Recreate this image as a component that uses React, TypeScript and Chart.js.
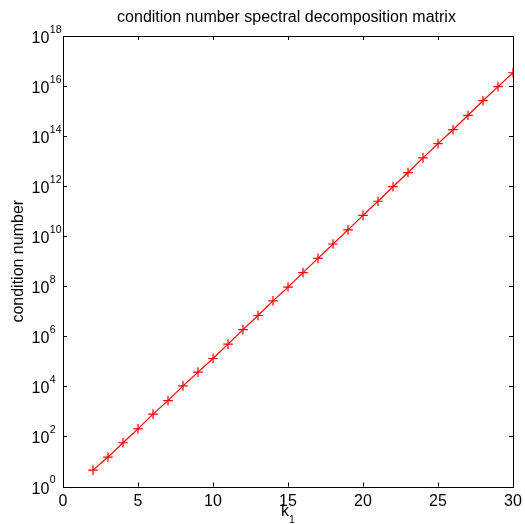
import React, { useEffect, useRef } from "react";
import { Chart, registerables } from "chart.js";

Chart.register(...registerables);

const kValues = [2, 3, 4, 5, 6, 7, 8, 9, 10, 11, 12, 13, 14, 15, 16, 17, 18, 19, 20, 21, 22, 23, 24, 25, 26, 27, 28, 29, 30];
const conditionNumbers = [
  4.5, 15, 56, 200, 780, 2.7e3, 1.05e4, 3.7e4, 1.3e5, 4.9e5,
  1.86e6, 6.8e6, 2.6e7, 9.3e7, 3.5e8, 1.3e9, 4.9e9, 1.8e10, 6.8e10, 2.5e11,
  9.5e11, 3.5e12, 1.35e13, 5e13, 1.8e14, 6.8e14, 2.6e15, 9.5e15, 3.4e16,
];
const yExponents = [0, 2, 4, 6, 8, 10, 12, 14, 16, 18];
const xTicks = [0, 5, 10, 15, 20, 25, 30];
const titleText = "condition number spectral decomposition matrix";
const yTitle = "condition number";
const xTitleMain = "k";
const xTitleSub = "1";

const FONT = "'Liberation Sans', Arial, Helvetica, sans-serif";

const decorPlugin = {
  id: "decor",
  afterDraw(chart: any) {
    const ctx = chart.ctx as CanvasRenderingContext2D;
    const { left, right, top, bottom } = chart.chartArea;
    const xs = chart.scales.x;
    const ys = chart.scales.y;
    ctx.save();
    ctx.strokeStyle = "#000";
    ctx.lineWidth = 1;
    ctx.strokeRect(Math.round(left) + 0.5, Math.round(top) + 0.5, Math.round(right - left), Math.round(bottom - top));
    const tl = 4;
    ctx.beginPath();
    xTicks.forEach((v) => {
      const px = Math.round(xs.getPixelForValue(v)) + 0.5;
      ctx.moveTo(px, bottom);
      ctx.lineTo(px, bottom - tl);
      ctx.moveTo(px, top);
      ctx.lineTo(px, top + tl);
    });
    yExponents.forEach((e) => {
      const py = Math.round(ys.getPixelForValue(Math.pow(10, e))) + 0.5;
      ctx.moveTo(left, py);
      ctx.lineTo(left + tl, py);
      ctx.moveTo(right, py);
      ctx.lineTo(right - tl, py);
    });
    ctx.stroke();
    ctx.fillStyle = "#000";
    ctx.textBaseline = "alphabetic";
    // x tick labels
    ctx.font = `16px ${FONT}`;
    ctx.textAlign = "center";
    xTicks.forEach((v) => {
      ctx.fillText(String(v), xs.getPixelForValue(v), bottom + 19.5);
    });
    // y tick labels with superscripts
    ctx.textAlign = "left";
    yExponents.forEach((e) => {
      const py = ys.getPixelForValue(Math.pow(10, e));
      ctx.font = `16px ${FONT}`;
      const baseX = 31.5;
      ctx.fillText("10", baseX, py + 7);
      const w = ctx.measureText("10").width;
      ctx.font = `10.5px ${FONT}`;
      ctx.fillText(String(e), baseX + w + 0.5, py - 3.5);
    });
    // title
    ctx.font = `16px ${FONT}`;
    ctx.textAlign = "center";
    ctx.fillText(titleText, (left + right) / 2 - 1.5, 22);
    // x title
    ctx.font = `16px ${FONT}`;
    const kw = ctx.measureText(xTitleMain).width;
    ctx.textAlign = "left";
    const cx = (left + right) / 2 - 3;
    ctx.fillText(xTitleMain, cx - kw / 2, 516);
    ctx.font = `10.5px ${FONT}`;
    ctx.fillText(xTitleSub, cx + kw / 2, 522.5);
    // y title
    ctx.font = `16px ${FONT}`;
    ctx.translate(22.5, (top + bottom) / 2);
    ctx.rotate(-Math.PI / 2);
    ctx.textAlign = "center";
    ctx.fillText(yTitle, 0, 0);
    ctx.restore();
  },
};

export default function App() {
  const ref = useRef<HTMLCanvasElement | null>(null);
  useEffect(() => {
    if (!ref.current) return;
    const chart = new Chart(ref.current, {
      type: "line",
      data: {
        datasets: [
          {
            data: kValues.map((k, i) => ({ x: k, y: conditionNumbers[i] })),
            borderColor: "rgb(255,0,0)",
            backgroundColor: "rgb(255,0,0)",
            borderWidth: 1.2,
            pointStyle: "cross",
            pointRadius: 4.8,
            pointBorderWidth: 1.2,
            pointBorderColor: "rgb(255,0,0)",
            pointBackgroundColor: "rgb(255,0,0)",
            tension: 0,
            fill: false,
          },
        ],
      },
      options: {
        animation: false,
        responsive: false,
        maintainAspectRatio: false,
        layout: { padding: { top: 36, right: 12, left: 0, bottom: 0 } },
        plugins: { legend: { display: false }, tooltip: { enabled: false }, title: { display: false } },
        scales: {
          x: {
            type: "linear",
            min: 0,
            max: 30,
            grid: { display: false, drawTicks: false },
            border: { display: false },
            ticks: { display: false, stepSize: 5 },
            afterFit(scale: any) {
              scale.height = 37.5;
            },
          },
          y: {
            type: "logarithmic",
            min: 1,
            max: 1e18,
            grid: { display: false, drawTicks: false },
            border: { display: false },
            ticks: { display: false },
            afterBuildTicks(scale: any) {
              scale.ticks = yExponents.map((e) => ({ value: Math.pow(10, e) }));
            },
            afterFit(scale: any) {
              scale.width = 63;
            },
          },
        },
      },
      plugins: [decorPlugin],
    } as any);
    return () => chart.destroy();
  }, []);
  return (
    <div style={{ position: "fixed", left: 0, top: 0, width: 525, height: 524, background: "#fff" }}>
      <canvas ref={ref} width={525} height={524} style={{ width: 525, height: 524, display: "block" }} />
    </div>
  );
}
